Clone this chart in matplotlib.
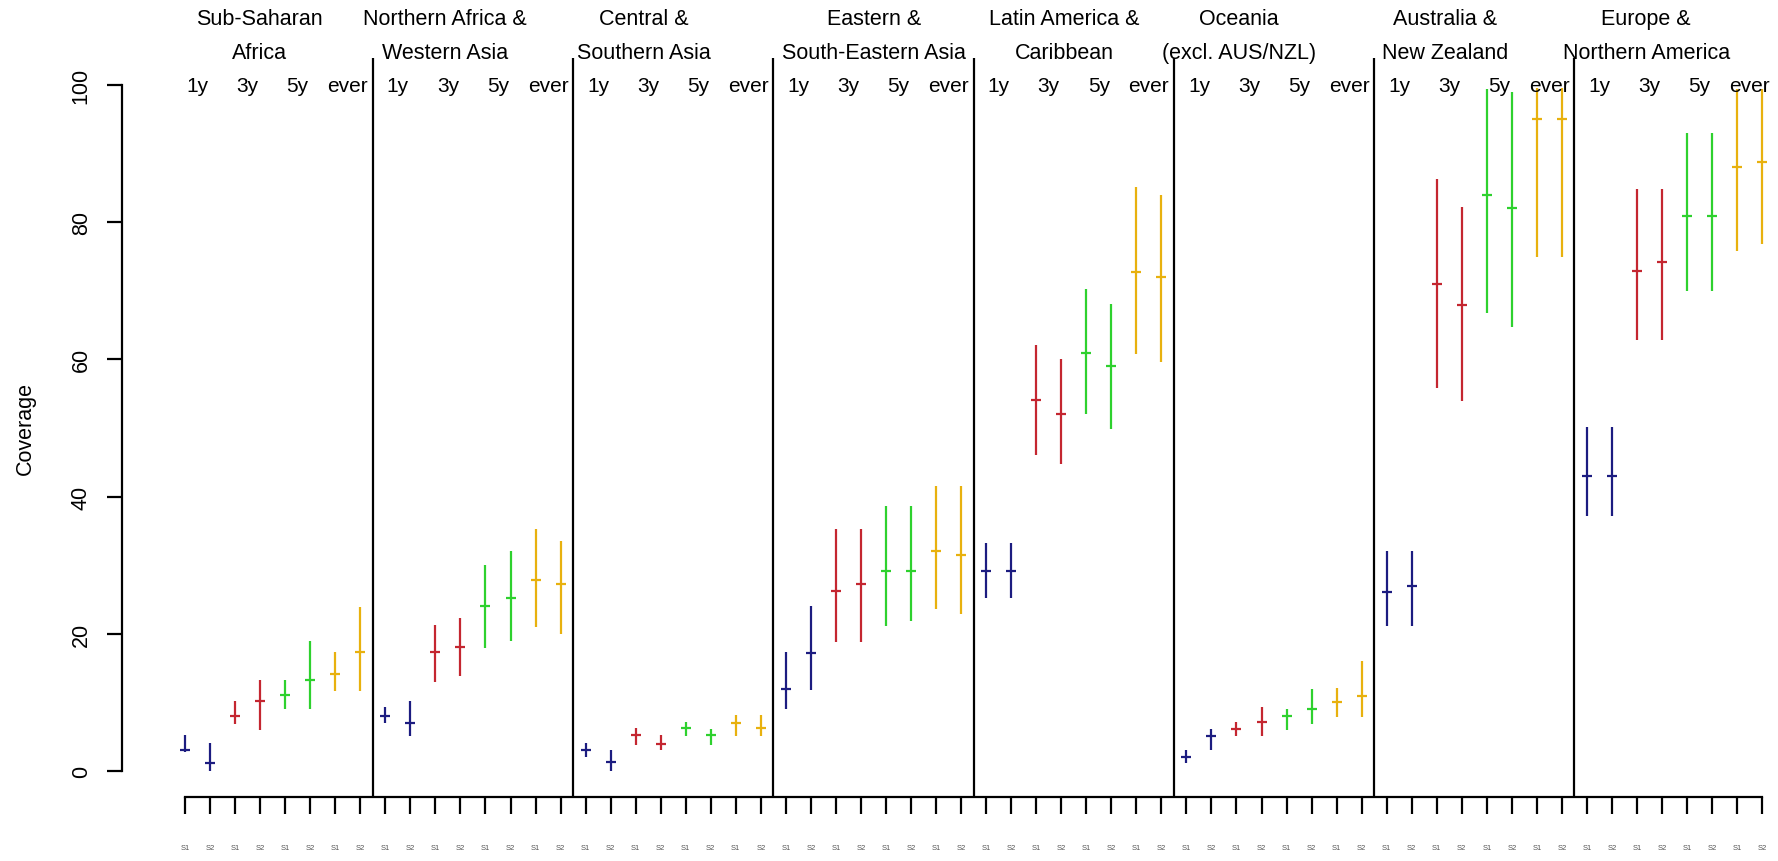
import matplotlib.pyplot as plt
import numpy as np

plt.rcParams['font.family'] = ['Liberation Sans', 'DejaVu Sans']

regions = ['Sub-Saharan\nAfrica', 'Northern Africa &\nWestern Asia',
           'Central &\nSouthern Asia', 'Eastern &\nSouth-Eastern Asia',
           'Latin America &\nCaribbean', 'Oceania\n(excl. AUS/NZL)',
           'Australia &\nNew Zealand', 'Europe &\nNorthern America']
periods = ['1y', '3y', '5y', 'ever']
surveys = ['S1', 'S2']

# per region: 1y S1, 1y S2, 3y S1, 3y S2, 5y S1, 5y S2, ever S1, ever S2
est = [
    [3.0, 1.2, 8.0, 10.2, 11.1, 13.3, 14.1, 17.3],
    [8.0, 7.0, 17.3, 18.1, 24.0, 25.2, 27.8, 27.2],
    [3.0, 1.3, 5.25, 3.9, 6.2, 5.25, 7.0, 6.2],
    [12.0, 17.2, 26.3, 27.2, 29.1, 29.1, 32.1, 31.5],
    [29.2, 29.2, 54.1, 52.0, 60.9, 59.0, 72.8, 72.0],
    [2.1, 5.15, 6.1, 7.1, 8.0, 9.1, 10.1, 11.0],
    [26.1, 27.0, 71.0, 67.9, 84.0, 82.1, 95.0, 95.0],
    [43.0, 43.0, 72.9, 74.2, 80.9, 80.9, 88.0, 88.8],
]
lower = [
    [2.7, 0.0, 6.85, 6.0, 9.0, 9.0, 11.7, 11.7],
    [6.95, 5.05, 13.0, 13.9, 18.0, 19.0, 21.0, 20.0],
    [2.0, 0.0, 3.8, 3.0, 5.15, 3.8, 5.15, 5.15],
    [9.0, 11.85, 18.85, 18.85, 21.2, 21.9, 23.6, 22.9],
    [25.2, 25.2, 46.0, 44.75, 52.0, 49.9, 60.8, 59.6],
    [1.2, 3.0, 5.15, 5.15, 6.0, 6.85, 7.8, 7.8],
    [21.1, 21.1, 55.8, 54.0, 66.8, 64.7, 74.9, 74.9],
    [37.2, 37.2, 62.9, 62.9, 70.0, 70.0, 75.8, 76.8],
]
upper = [
    [5.2, 4.1, 10.2, 13.3, 13.3, 19.0, 17.3, 23.9],
    [9.3, 10.25, 21.3, 22.3, 30.1, 32.1, 35.3, 33.6],
    [4.1, 3.1, 6.2, 5.25, 7.2, 6.1, 8.1, 8.1],
    [17.3, 24.0, 35.3, 35.3, 38.6, 38.6, 41.6, 41.6],
    [33.2, 33.2, 62.1, 60.1, 70.3, 68.1, 85.1, 84.0],
    [3.1, 6.1, 7.1, 9.3, 9.1, 12.0, 12.05, 16.1],
    [32.0, 32.0, 86.3, 82.2, 99.4, 99.0, 99.5, 99.5],
    [50.1, 50.1, 84.9, 84.9, 93.0, 93.0, 99.4, 99.4],
]
header_x = [3.96, 11.39, 19.34, 28.53, 36.12, 43.1, 51.34, 59.37]

colors = ['#1c1c80', '#c42630', '#2ed12e', '#e8b10e']

est = np.array(est)
lower = np.array(lower)
upper = np.array(upper)
n_reg, n_bar = est.shape
x = np.arange(1, n_reg * n_bar + 1).reshape(n_reg, n_bar)

fig = plt.figure(figsize=(17.78, 8.62), dpi=100)
ax = fig.add_axes([0.0686, 0.0742, 0.958, 0.8578])
ax.set_xlim(1 - 63 * 0.04, 64 + 63 * 0.04)
ax.set_ylim(-3.8, 104)

for j in range(n_bar):
    c = colors[j // 2]
    ax.vlines(x[:, j], lower[:, j], upper[:, j], color=c, lw=1.6)
    ax.plot(x[:, j], est[:, j], ls='none', marker='_', ms=7, mew=1.6, color=c)

# panel separators, full height of the plot region
for k in range(1, n_reg):
    ax.axvline(8 * k + 0.5, color='black', lw=1.6)

# period labels inside each panel, headers above
for i in range(n_reg):
    for p, lab in enumerate(periods):
        ax.text(x[i, 2 * p] + 0.5, 100, lab, ha='center', va='center',
                fontsize=15)
    for n, line in enumerate(regions[i].split('\n')):
        ax.annotate(line, xy=(header_x[i], 862 - 20 - 34 * n),
                    xycoords=('data', 'figure pixels'),
                    ha='center', va='center', fontsize=15.5,
                    annotation_clip=False)

for s in ['top', 'right']:
    ax.spines[s].set_visible(False)
ax.spines['left'].set_bounds(0, 100)
ax.spines['bottom'].set_bounds(1, 64)
for s in ['left', 'bottom']:
    ax.spines[s].set_linewidth(1.6)

ax.set_yticks([0, 20, 40, 60, 80, 100])
ax.set_yticklabels(['0', '20', '40', '60', '80', '100'], rotation=90,
                   va='center', fontsize=15.5)
ax.tick_params(axis='y', length=10.8, width=1.6, pad=11)

ax.set_xticks(x.ravel())
ax.set_xticklabels(surveys * (x.size // 2), fontsize=5.5, color='#555555')
ax.tick_params(axis='x', length=12, width=1.6, pad=22)

ax.set_ylabel('Coverage', fontsize=15.5, va='center')
ax.yaxis.set_label_coords(-0.057, 0.5)

fig.savefig('out.png', dpi=100)
